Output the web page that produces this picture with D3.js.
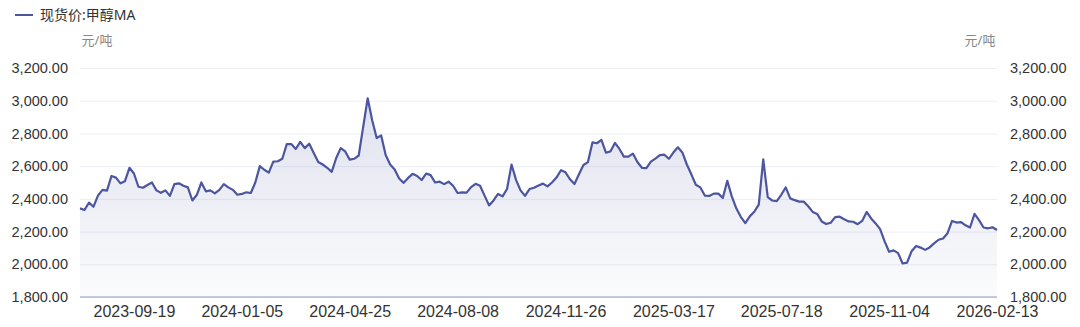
<!DOCTYPE html>
<html>
<head>
<meta charset="utf-8">
<script src="https://cdn.jsdelivr.net/npm/d3@7"></script>
<style>
  body { margin: 0; background: #fff; }
  svg { display: block; font-family: "Noto Sans", "Noto Sans CJK SC", sans-serif; }
  .axis text { fill: #333; font-size: 14.5px; }
  .axis.x text { font-size: 16px; }
  .axis .domain { display: none; }
  .axis line { display: none; }
  .grid line { stroke: #eceef6; stroke-width: 1; }
  .grid .domain { display: none; }
</style>
</head>
<body>
<script>
// 现货价:甲醇MA, sampled every 3 trading days (元/吨)
const seriesName = '现货价:甲醇MA';
const unit = '元/吨';
const prices = [
  2342, 2332, 2377, 2352, 2420, 2455, 2450, 2540, 2530, 2495,
  2508, 2590, 2555, 2474, 2468, 2485, 2500, 2452, 2437, 2452,
  2418, 2490, 2495, 2480, 2470, 2390, 2425, 2500, 2446, 2452,
  2434, 2455, 2490, 2470, 2455, 2425, 2430, 2440, 2436, 2500,
  2600, 2578, 2560, 2628, 2630, 2645, 2735, 2735, 2705, 2748,
  2710, 2737, 2680, 2625, 2610, 2590, 2565, 2650, 2710, 2690,
  2640, 2645, 2665, 2840, 3015, 2880, 2772, 2788, 2668, 2610,
  2580, 2524, 2498, 2528, 2553, 2540, 2515, 2555, 2545, 2500,
  2505, 2490, 2505, 2480, 2436, 2440, 2438, 2472, 2492, 2480,
  2420, 2360, 2390, 2430, 2415, 2460, 2610, 2516, 2452, 2418,
  2460, 2468, 2482, 2493, 2476, 2500, 2530, 2575, 2562, 2520,
  2491, 2550, 2607, 2625, 2745, 2740, 2760, 2682, 2690, 2742,
  2705, 2658, 2658, 2677, 2625, 2590, 2588, 2628, 2646, 2667,
  2670, 2645, 2683, 2715, 2684, 2610, 2550, 2486, 2470, 2420,
  2418, 2432, 2432, 2405, 2510, 2415, 2342, 2290, 2252, 2293,
  2321, 2365, 2642, 2410, 2390, 2386, 2425, 2470, 2403, 2392,
  2383, 2383, 2355, 2320, 2308, 2262, 2246, 2254, 2288, 2291,
  2275, 2262, 2260, 2245, 2265, 2320, 2280, 2250, 2215, 2140,
  2077, 2085, 2068, 2005, 2010, 2080, 2112, 2102, 2088, 2103,
  2128, 2150, 2158, 2190, 2265, 2255, 2258, 2238, 2225, 2308,
  2270, 2225, 2220, 2226, 2210
];
const dateLabels = ['2023-09-19', '2024-01-05', '2024-04-25', '2024-08-08', '2024-11-26',
                    '2025-03-17', '2025-07-18', '2025-11-04', '2026-02-13'];
// label i sits on sample firstLabel + i * labelEvery
const firstLabel = 12;
const labelEvery = 24;
const yTicks = [1800, 2000, 2200, 2400, 2600, 2800, 3000, 3200];

const W = 1080, H = 327;
const margin = {top: 68, right: 83, bottom: 30, left: 80};
const width = W - margin.left - margin.right;
const height = H - margin.top - margin.bottom;
const lineColor = '#4b569e';

const svg = d3.select('body').append('svg')
    .attr('width', W)
    .attr('height', H);

const defs = svg.append('defs');
const grad = defs.append('linearGradient')
    .attr('id', 'areaFill')
    .attr('gradientUnits', 'userSpaceOnUse')
    .attr('x1', 0).attr('x2', 0)
    .attr('y1', 0).attr('y2', height);
grad.append('stop').attr('offset', '0%').attr('stop-color', lineColor).attr('stop-opacity', 0.2);
grad.append('stop').attr('offset', '100%').attr('stop-color', lineColor).attr('stop-opacity', 0.02);

const g = svg.append('g')
    .attr('transform', `translate(${margin.left},${margin.top})`);

const xScale = d3.scaleLinear()
    .domain([0, prices.length - 1])
    .range([0, width]);
const yScale = d3.scaleLinear()
    .domain([1800, 3200])
    .range([height, 0]);

// grid
g.append('g')
  .attr('class', 'grid')
  .call(d3.axisLeft(yScale)
        .tickValues(yTicks)
        .tickSize(-width)
        .tickFormat(''));

// area + line
const area = d3.area()
    .x((d, i) => xScale(i))
    .y0(height)
    .y1(d => yScale(d));
const line = d3.line()
    .x((d, i) => xScale(i))
    .y(d => yScale(d));

g.append('path')
  .datum(prices)
  .attr('fill', 'url(#areaFill)')
  .attr('d', area);

g.append('path')
  .datum(prices)
  .attr('fill', 'none')
  .attr('stroke', lineColor)
  .attr('stroke-width', 2.2)
  .attr('stroke-linejoin', 'round')
  .attr('d', line);

// bottom axis line
g.append('line')
  .attr('x1', 0).attr('x2', width)
  .attr('y1', height).attr('y2', height)
  .attr('stroke', '#8f98c2')
  .attr('stroke-width', 1.2);

// axes
const fmt = d3.format(',.2f');
g.append('g')
  .attr('class', 'axis')
  .call(d3.axisLeft(yScale).tickValues(yTicks).tickSize(0).tickPadding(12).tickFormat(fmt));
g.append('g')
  .attr('class', 'axis')
  .attr('transform', `translate(${width},0)`)
  .call(d3.axisRight(yScale).tickValues(yTicks).tickSize(0).tickPadding(13).tickFormat(fmt));

const labelIdx = dateLabels.map((d, i) => firstLabel + i * labelEvery);
g.append('g')
  .attr('class', 'axis x')
  .attr('transform', `translate(0,${height})`)
  .call(d3.axisBottom(xScale)
        .tickValues(labelIdx)
        .tickSize(0)
        .tickPadding(9)
        .tickFormat((d, i) => dateLabels[i]));

// units
svg.append('text')
  .attr('x', margin.left + 17)
  .attr('y', 45)
  .attr('text-anchor', 'middle')
  .style('font-size', '13px')
  .style('fill', '#888')
  .text(unit);
svg.append('text')
  .attr('x', W - 100)
  .attr('y', 45)
  .attr('text-anchor', 'middle')
  .style('font-size', '13px')
  .style('fill', '#888')
  .text(unit);

// legend
svg.append('line')
  .attr('x1', 15).attr('x2', 33)
  .attr('y1', 15).attr('y2', 15)
  .attr('stroke', lineColor)
  .attr('stroke-width', 2);
svg.append('text')
  .attr('x', 40)
  .attr('y', 20)
  .style('font-size', '14px')
  .style('fill', '#333')
  .text(seriesName);
</script>
</body>
</html>
